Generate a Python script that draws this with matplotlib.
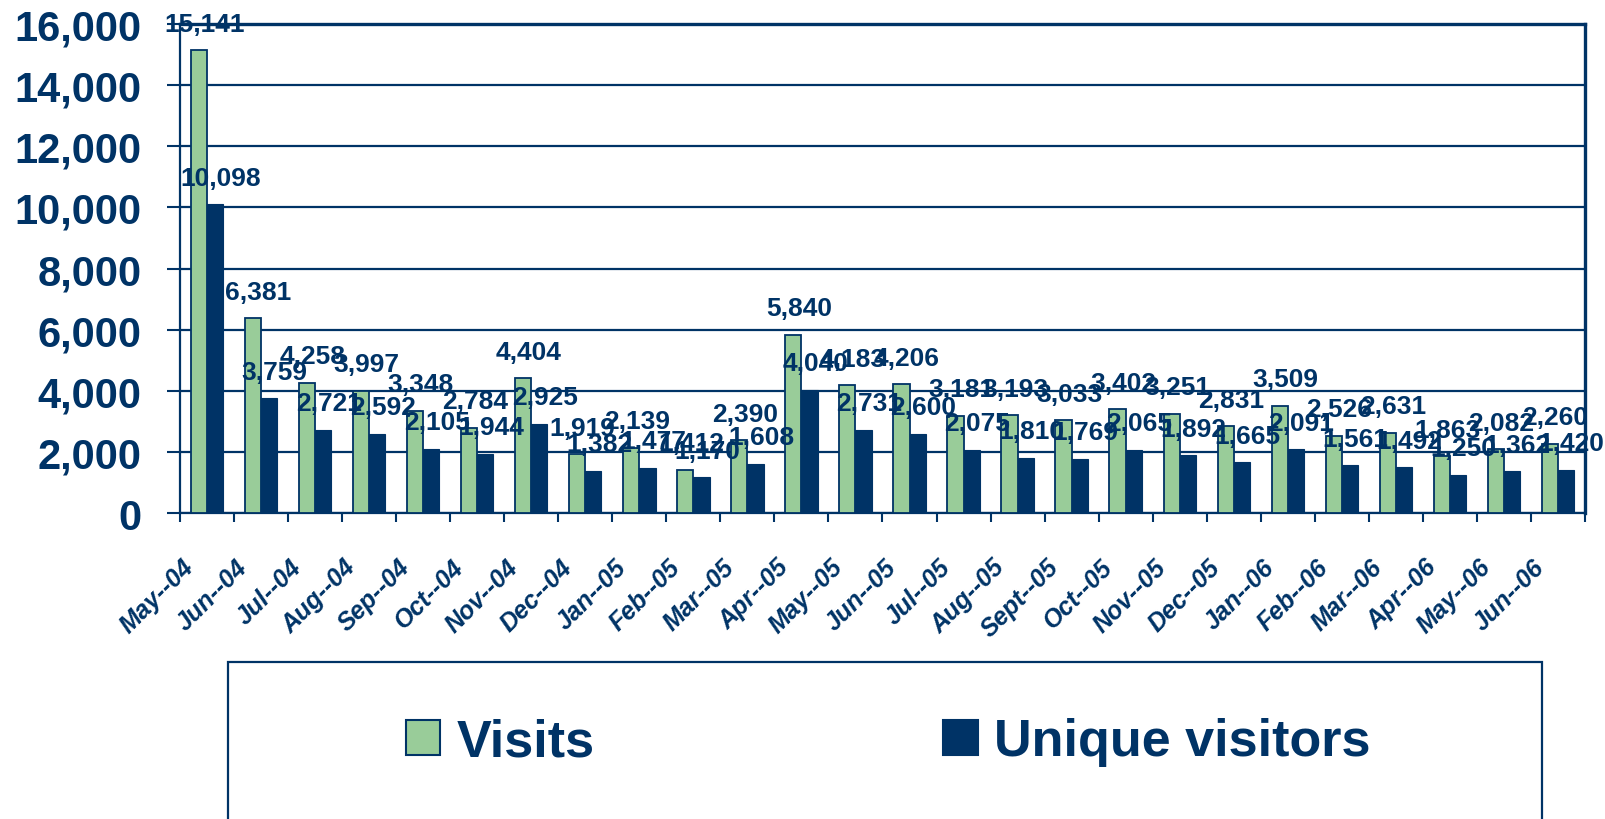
import numpy as np
import matplotlib
matplotlib.use("Agg")
import matplotlib.pyplot as plt
from matplotlib.patches import Patch, Rectangle
from matplotlib.ticker import FixedLocator, FuncFormatter, MultipleLocator
import matplotlib.transforms as mtrans

months = ["May--04", "Jun--04", "Jul--04", "Aug--04", "Sep--04", "Oct--04", "Nov--04",
          "Dec--04", "Jan--05", "Feb--05", "Mar--05", "Apr--05", "May--05", "Jun--05",
          "Jul--05", "Aug--05", "Sept--05", "Oct--05", "Nov--05", "Dec--05", "Jan--06",
          "Feb--06", "Mar--06", "Apr--06", "May--06", "Jun--06"]
visits = [15141, 6381, 4258, 3997, 3348, 2784, 4404, 1919, 2139, 1412, 2390, 5840, 4183,
          4206, 3181, 3193, 3033, 3402, 3251, 2831, 3509, 2526, 2631, 1863, 2082, 2260]
unique_visitors = [10098, 3759, 2721, 2592, 2105, 1944, 2925, 1382, 1477, 1170, 1608, 4040,
                   2731, 2600, 2075, 1810, 1769, 2065, 1892, 1665, 2091, 1561, 1492, 1250,
                   1362, 1420]
series_names = ["Visits", "Unique visitors"]

NAVY = "#003366"
GREEN = "#99CC99"
FONT = "Liberation Sans"

plt.rcParams["font.family"] = [FONT, "DejaVu Sans"]

W, H = 1606, 820
fig = plt.figure(figsize=(W / 100, H / 100), dpi=100)
ax = fig.add_axes([180 / W, 1 - 514 / H, (1585 - 180) / W, (514 - 25) / H])

n = len(months)
x = np.arange(n)
bw = 0.30
ax.bar(x - bw / 2, visits, bw, color=GREEN, edgecolor=NAVY, linewidth=1.3, zorder=3)
ax.bar(x + bw / 2, unique_visitors, bw, color=NAVY, edgecolor=NAVY, linewidth=0.8, zorder=3)

for xs, vals in ((x - bw / 2, visits), (x + bw / 2, unique_visitors)):
    for xi, v in zip(xs, vals):
        ax.annotate(f"{v:,}", (xi, v), xytext=(4, 14), textcoords="offset points",
                    ha="center", va="baseline", fontsize=19, fontweight="bold",
                    color=NAVY, zorder=5, annotation_clip=False)

ax.set_xlim(-0.5, n - 0.5)
ax.set_ylim(0, 16000)
ax.yaxis.set_major_locator(MultipleLocator(2000))
ax.yaxis.set_major_formatter(FuncFormatter(lambda v, p: f"{int(v):,}"))
ax.grid(axis="y", color=NAVY, linewidth=1.6, zorder=1)
ax.set_axisbelow(True)

# x: ticks at category boundaries, labels at centers
ax.xaxis.set_major_locator(FixedLocator(np.arange(-0.5, n, 1.0)))
ax.xaxis.set_major_formatter(FuncFormatter(lambda v, p: ""))
ax.xaxis.set_minor_locator(FixedLocator(x))
ax.set_xticklabels(months, minor=True)
ax.tick_params(axis="x", which="major", length=6.5, width=1.5, color=NAVY, direction="out")
ax.tick_params(axis="x", which="minor", length=0, pad=36)
offset = mtrans.ScaledTranslation(-17 / 100, 0, fig.dpi_scale_trans)
for lab in ax.get_xticklabels(minor=True):
    lab.set_rotation(45)
    lab.set_ha("right")
    lab.set_va("center")
    lab.set_rotation_mode("anchor")
    lab.set_fontsize(18)
    lab.set_fontweight("bold")
    lab.set_fontstyle("italic")
    lab.set_color(NAVY)
    lab.set_transform(lab.get_transform() + offset)

ax.tick_params(axis="y", length=9.5, width=1.5, color=NAVY, direction="out", pad=18,
               labelsize=30, labelcolor=NAVY)
for lab in ax.get_yticklabels():
    lab.set_fontweight("bold")

for s in ["left", "bottom"]:
    ax.spines[s].set_color(NAVY)
    ax.spines[s].set_linewidth(1.6)
for s in ["top", "right"]:
    ax.spines[s].set_color(NAVY)
    ax.spines[s].set_linewidth(2.4)

# legend box
fig.patches.append(Rectangle((228 / W, -0.05), (1542 - 228) / W, (820 - 663) / H + 0.05,
                             transform=fig.transFigure, fill=False, edgecolor=NAVY,
                             linewidth=1.6))
handles = [Patch(facecolor=GREEN, edgecolor=NAVY, linewidth=1.5),
           Patch(facecolor=NAVY, edgecolor=NAVY, linewidth=1.5)]
fig.legend(handles, series_names, loc="center", bbox_to_anchor=(888 / W, 1 - 743 / H),
           ncol=2, frameon=False,
           prop=dict(family=FONT, weight="bold", size=37.5),
           handlelength=0.66, handleheight=0.66, handletextpad=0.31,
           columnspacing=6.7, labelcolor=NAVY)

fig.savefig("out.png", dpi=100, facecolor="white")
